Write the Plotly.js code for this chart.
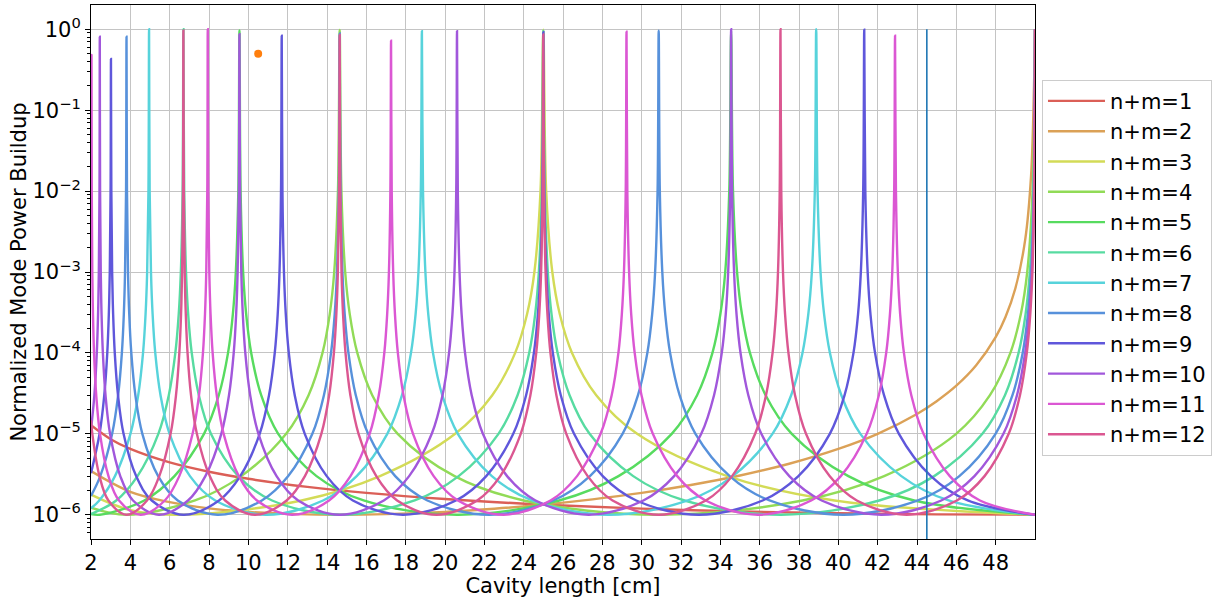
<!DOCTYPE html>
<html><head><meta charset="utf-8">
<script src="https://cdn.plot.ly/plotly-3.0.1.min.js"></script>
<style>html,body{margin:0;padding:0;background:#fff}#chart{width:1217px;height:598px}</style>
</head><body><div id="chart"></div>
<script>
const seriesNames = ['n+m=1','n+m=2','n+m=3','n+m=4','n+m=5','n+m=6','n+m=7','n+m=8','n+m=9','n+m=10','n+m=11','n+m=12'];
const seriesColors = ['#db5f57','#dba157','#d3db57','#91db57','#57db5f','#57dba1','#57d3db','#5791db','#5f57db','#a157db','#db57d3','#db5791'];

const x1 = [2,3,4,6,8,10,13,16,20,25,30,35,40,45,50];
const y1 = [1.275e-5,8.59e-6,6.51e-6,4.43e-6,3.40e-6,2.78e-6,2.21e-6,1.86e-6,1.5625e-6,1.333e-6,1.19e-6,1.099e-6,1.042e-6,1.01e-6,1.0e-6];

const x2 = [2,4,6,8,10,12.5,14.645,17,20,22.5,25,27.5,30,32.5,35,37.5,40,42,44,45,46,47,48,48.5,49,49.5,49.8,49.95,50];
const y2 = [3.46e-6,1.92e-6,1.43e-6,1.20e-6,1.085e-6,1.016e-6,1.0e-6,1.017e-6,1.085e-6,1.185e-6,1.333e-6,1.548e-6,1.86e-6,2.33e-6,3.05e-6,4.27e-6,6.51e-6,1.0e-5,1.76e-5,2.53e-5,3.93e-5,6.97e-5,1.565e-4,2.78e-4,6.25e-4,2.49e-3,0.0154,0.2,1.0];

const x3 = [2,4,6.699,12.707,16.694,20.517,22.403,23.568,24.171,24.545,24.856,25,25.144,25.457,25.838,26.459,27.690,29.769,34.356,39.803,50];
const y3 = [1.77e-6,1.14e-6,1e-6,
  1.5e-6,3e-6,1e-5,3e-5,1e-4,3e-4,1e-3,1e-2,0.99,1e-2,1e-3,3e-4,1e-4,3e-5,1e-5,3e-6,1.5e-6,
  1e-6];

const x4 = [2,3.806,7.288,9.639,11.923,13.063,13.771,14.138,14.367,14.557,14.645,14.733,14.925,15.159,15.541,16.301,17.594,20.487,24.005,30.866,38.180,42.329,45.990,47.710,48.748,49.278,49.605,49.876,50];
const y4 = [1.22e-6,1e-6,
  1.5e-6,3e-6,1e-5,3e-5,1e-4,3e-4,1e-3,1e-2,0.98,1e-2,1e-3,3e-4,1e-4,3e-5,1e-5,3e-6,1.5e-6,
  1e-6,1.5e-6,3e-6,1e-5,3e-5,1e-4,3e-4,1e-3,1e-2,1.0];

const x5 = [2,2.447,4.707,6.244,7.746,8.499,8.968,9.212,9.364,9.491,9.549,9.607,9.735,9.891,10.146,10.653,11.519,13.468,15.862,20.611,25.805,28.822,31.529,32.817,33.599,34.001,34.249,34.454,34.549,34.644,34.850,35.099,35.505,36.302,37.633,40.511,43.855,50];
const y5 = [1.02e-6,1e-6,
  1.5e-6,3e-6,1e-5,3e-5,1e-4,3e-4,1e-3,1e-2,0.97,1e-2,1e-3,3e-4,1e-4,3e-5,1e-5,3e-6,1.5e-6,
  1e-6,
  1.5e-6,3e-6,1e-5,3e-5,1e-4,3e-4,1e-3,1e-2,0.96,1e-2,1e-3,3e-4,1e-4,3e-5,1e-5,3e-6,1.5e-6,
  1e-6];

const x6 = [2,3.284,4.364,5.424,5.956,6.288,6.460,6.568,6.658,6.699,6.740,6.831,6.942,7.122,7.483,8.098,9.489,11.207,14.645,18.455,20.693,22.719,23.689,24.281,24.584,24.772,24.928,25,25.072,25.228,25.418,25.726,26.334,27.352,29.570,32.177,37.059,42.078,44.875,47.325,48.473,49.165,49.519,49.737,49.917,50];
const y6 = [1.02e-6,
  1.5e-6,3e-6,1e-5,3e-5,1e-4,3e-4,1e-3,1e-2,1.0,1e-2,1e-3,3e-4,1e-4,3e-5,1e-5,3e-6,1.5e-6,
  1e-6,
  1.5e-6,3e-6,1e-5,3e-5,1e-4,3e-4,1e-3,1e-2,0.96,1e-2,1e-3,3e-4,1e-4,3e-5,1e-5,3e-6,1.5e-6,
  1e-6,1.5e-6,3e-6,1e-5,3e-5,1e-4,3e-4,1e-3,1e-2,1.0];

const x7 = [2,2.420,3.219,4.005,4.400,4.646,4.774,4.855,4.921,4.952,4.983,5.050,5.133,5.267,5.535,5.994,7.032,8.319,10.908,13.801,15.510,17.066,17.813,18.270,18.504,18.650,18.770,18.826,18.882,19.003,19.150,19.389,19.860,20.652,22.383,24.430,28.306,32.350,34.632,36.650,37.602,38.177,38.472,38.654,38.805,38.874,38.943,39.094,39.277,39.573,40.154,41.121,43.202,45.605,50];
const y7 = [1.2e-6,
  1.5e-6,3e-6,1e-5,3e-5,1e-4,3e-4,1e-3,1e-2,1.0,1e-2,1e-3,3e-4,1e-4,3e-5,1e-5,3e-6,1.5e-6,
  1e-6,
  1.5e-6,3e-6,1e-5,3e-5,1e-4,3e-4,1e-3,1e-2,0.95,1e-2,1e-3,3e-4,1e-4,3e-5,1e-5,3e-6,1.5e-6,
  1e-6,
  1.5e-6,3e-6,1e-5,3e-5,1e-4,3e-4,1e-3,1e-2,1.0,1e-2,1e-3,3e-4,1e-4,3e-5,1e-5,3e-6,1.5e-6,
  1e-6];

const x8 = [2,2.471,3.075,3.380,3.570,3.669,3.731,3.782,3.806,3.830,3.882,3.945,4.049,4.256,4.611,5.415,6.412,8.427,10.687,12.029,13.255,13.844,14.205,14.391,14.506,14.601,14.645,14.689,14.785,14.901,15.090,15.464,16.092,17.469,19.105,22.221,25.502,27.369,29.028,29.813,30.289,30.533,30.684,30.809,30.866,30.923,31.049,31.200,31.446,31.929,32.735,34.476,36.501,40.245,44.047,46.153,47.993,48.855,49.374,49.639,49.803,49.938,50];
const y8 = [1.71e-6,3e-6,1e-5,3e-5,1e-4,3e-4,1e-3,1e-2,0.81,1e-2,1e-3,3e-4,1e-4,3e-5,1e-5,3e-6,1.5e-6,
  1e-6,
  1.5e-6,3e-6,1e-5,3e-5,1e-4,3e-4,1e-3,1e-2,0.89,1e-2,1e-3,3e-4,1e-4,3e-5,1e-5,3e-6,1.5e-6,
  1e-6,
  1.5e-6,3e-6,1e-5,3e-5,1e-4,3e-4,1e-3,1e-2,0.96,1e-2,1e-3,3e-4,1e-4,3e-5,1e-5,3e-6,1.5e-6,
  1e-6,1.5e-6,3e-6,1e-5,3e-5,1e-4,3e-4,1e-3,1e-2,1.0];

const x9 = [2,2.435,2.676,2.828,2.906,2.955,2.996,3.015,3.034,3.075,3.126,3.208,3.373,3.655,4.295,5.090,6.699,8.510,9.589,10.576,11.052,11.343,11.493,11.585,11.662,11.698,11.734,11.811,11.905,12.058,12.360,12.869,13.986,15.316,17.861,20.556,22.097,23.471,24.124,24.520,24.723,24.848,24.952,25,25.048,25.152,25.278,25.483,25.887,26.561,28.021,29.725,32.899,36.153,37.970,39.567,40.317,40.770,41.002,41.145,41.264,41.318,41.372,41.491,41.634,41.867,42.322,43.080,44.706,46.580,50];
const y9 = [3.26e-6,1e-5,3e-5,1e-4,3e-4,1e-3,1e-2,0.43,1e-2,1e-3,3e-4,1e-4,3e-5,1e-5,3e-6,1.5e-6,
  1e-6,
  1.5e-6,3e-6,1e-5,3e-5,1e-4,3e-4,1e-3,1e-2,0.83,1e-2,1e-3,3e-4,1e-4,3e-5,1e-5,3e-6,1.5e-6,
  1e-6,
  1.5e-6,3e-6,1e-5,3e-5,1e-4,3e-4,1e-3,1e-2,0.92,1e-2,1e-3,3e-4,1e-4,3e-5,1e-5,3e-6,1.5e-6,
  1e-6,
  1.5e-6,3e-6,1e-5,3e-5,1e-4,3e-4,1e-3,1e-2,0.99,1e-2,1e-3,3e-4,1e-4,3e-5,1e-5,3e-6,1.5e-6,
  1e-6];

const x10 = [2,2.172,2.295,2.359,2.398,2.432,2.447,2.462,2.496,2.537,2.604,2.738,2.968,3.489,4.137,5.450,6.932,7.816,8.626,9.017,9.257,9.380,9.456,9.520,9.549,9.578,9.642,9.719,9.845,10.094,10.514,11.436,12.535,14.645,16.889,18.176,19.327,19.875,20.207,20.378,20.483,20.571,20.611,20.651,20.739,20.845,21.018,21.357,21.925,23.157,24.600,27.300,30.087,31.651,33.030,33.680,34.073,34.275,34.399,34.502,34.549,34.596,34.699,34.824,35.026,35.423,36.084,37.507,39.152,42.178,45.234,46.921,48.395,49.084,49.499,49.711,49.842,49.950,50];
const y10 = [1.12e-5,3e-5,1e-4,3e-4,1e-3,1e-2,0.81,1e-2,1e-3,3e-4,1e-4,3e-5,1e-5,3e-6,1.5e-6,
  1e-6,
  1.5e-6,3e-6,1e-5,3e-5,1e-4,3e-4,1e-3,1e-2,0.87,1e-2,1e-3,3e-4,1e-4,3e-5,1e-5,3e-6,1.5e-6,
  1e-6,
  1.5e-6,3e-6,1e-5,3e-5,1e-4,3e-4,1e-3,1e-2,0.95,1e-2,1e-3,3e-4,1e-4,3e-5,1e-5,3e-6,1.5e-6,
  1e-6,
  1.5e-6,3e-6,1e-5,3e-5,1e-4,3e-4,1e-3,1e-2,1.0,1e-2,1e-3,3e-4,1e-4,3e-5,1e-5,3e-6,1.5e-6,
  1e-6,1.5e-6,3e-6,1e-5,3e-5,1e-4,3e-4,1e-3,1e-2,1.0];

const x11 = [2,2.012,2.025,2.038,2.066,2.100,2.155,2.266,2.457,2.889,3.427,4.518,5.752,6.490,7.166,7.492,7.693,7.796,7.860,7.913,7.937,7.961,8.015,8.080,8.185,8.393,8.744,9.516,10.439,12.212,14.105,15.193,16.168,16.632,16.914,17.059,17.149,17.223,17.257,17.291,17.366,17.456,17.603,17.891,18.374,19.424,20.656,22.968,25.365,26.716,27.911,28.475,28.817,28.991,29.099,29.189,29.230,29.271,29.361,29.469,29.645,29.991,30.567,31.808,33.250,35.913,38.621,40.125,41.442,42.060,42.434,42.624,42.742,42.839,42.884,42.929,43.026,43.144,43.335,43.710,44.332,45.666,47.201,50];
const y11 = [2.5e-3,1e-2,0.48,1e-2,1e-3,3e-4,1e-4,3e-5,1e-5,3e-6,1.5e-6,
  1e-6,
  1.5e-6,3e-6,1e-5,3e-5,1e-4,3e-4,1e-3,1e-2,1.0,1e-2,1e-3,3e-4,1e-4,3e-5,1e-5,3e-6,1.5e-6,
  1e-6,
  1.5e-6,3e-6,1e-5,3e-5,1e-4,3e-4,1e-3,1e-2,0.72,1e-2,1e-3,3e-4,1e-4,3e-5,1e-5,3e-6,1.5e-6,
  1e-6,
  1.5e-6,3e-6,1e-5,3e-5,1e-4,3e-4,1e-3,1e-2,0.93,1e-2,1e-3,3e-4,1e-4,3e-5,1e-5,3e-6,1.5e-6,
  1e-6,
  1.5e-6,3e-6,1e-5,3e-5,1e-4,3e-4,1e-3,1e-2,0.83,1e-2,1e-3,3e-4,1e-4,3e-5,1e-5,3e-6,1.5e-6,
  1e-6];

const x12 = [2,2.067,2.431,2.885,3.806,4.849,5.473,6.046,6.322,6.492,6.579,6.633,6.678,6.699,6.720,6.765,6.820,6.909,7.086,7.383,8.039,8.822,10.332,11.946,12.877,13.712,14.109,14.351,14.475,14.552,14.616,14.645,14.674,14.738,14.816,14.941,15.189,15.604,16.506,17.566,19.562,21.638,22.811,23.850,24.342,24.639,24.792,24.886,24.964,25,25.036,25.114,25.209,25.362,25.664,26.168,27.255,28.521,30.866,33.262,34.597,35.771,36.323,36.656,36.827,36.932,37.019,37.059,37.099,37.186,37.292,37.463,37.798,38.356,39.555,40.938,43.474,46.026,47.434,48.662,49.236,49.583,49.759,49.868,49.959,50];
const y12 = [1.47e-5,1e-5,3e-6,1.5e-6,
  1e-6,
  1.5e-6,3e-6,1e-5,3e-5,1e-4,3e-4,1e-3,1e-2,0.97,1e-2,1e-3,3e-4,1e-4,3e-5,1e-5,3e-6,1.5e-6,
  1e-6,
  1.5e-6,3e-6,1e-5,3e-5,1e-4,3e-4,1e-3,1e-2,0.85,1e-2,1e-3,3e-4,1e-4,3e-5,1e-5,3e-6,1.5e-6,
  1e-6,
  1.5e-6,3e-6,1e-5,3e-5,1e-4,3e-4,1e-3,1e-2,0.86,1e-2,1e-3,3e-4,1e-4,3e-5,1e-5,3e-6,1.5e-6,
  1e-6,
  1.5e-6,3e-6,1e-5,3e-5,1e-4,3e-4,1e-3,1e-2,1.0,1e-2,1e-3,3e-4,1e-4,3e-5,1e-5,3e-6,1.5e-6,
  1e-6,1.5e-6,3e-6,1e-5,3e-5,1e-4,3e-4,1e-3,1e-2,1.0];

const markerLineX = [44.5, 44.5];
const markerLineY = [1e-8, 1.0];
const pointX = [10.5];
const pointY = [0.5];

const xTickVals = [2,4,6,8,10,12,14,16,18,20,22,24,26,28,30,32,34,36,38,40,42,44,46,48];
const yTickVals = [1e-6,1e-5,1e-4,1e-3,1e-2,1e-1,1];
const yTickText = ['10<sup>\u22126</sup>','10<sup>\u22125</sup>','10<sup>\u22124</sup>','10<sup>\u22123</sup>','10<sup>\u22122</sup>','10<sup>\u22121</sup>','10<sup>0</sup>'];

const xs = [x1,x2,x3,x4,x5,x6,x7,x8,x9,x10,x11,x12];
const ys = [y1,y2,y3,y4,y5,y6,y7,y8,y9,y10,y11,y12];

const minorVals = [];
for (let e = -7; e <= 0; e++) {
  for (let m = 2; m <= 9; m++) minorVals.push(m * Math.pow(10, e));
}

const FS = 21;
const traces = xs.map((xv, i) => ({
  type: 'scatter', mode: 'lines', x: xv, y: ys[i], name: seriesNames[i],
  line: {color: seriesColors[i], width: 2.4, shape: 'spline', smoothing: 1},
  hoverinfo: 'skip'
}));
traces.push({type: 'scatter', mode: 'lines', x: markerLineX, y: markerLineY, showlegend: false,
  line: {color: '#1f77b4', width: 1.6}, hoverinfo: 'skip'});
traces.push({type: 'scatter', mode: 'markers', x: pointX, y: pointY, showlegend: false,
  marker: {color: '#ff7f0e', size: 8}, hoverinfo: 'skip'});

const layout = {
  width: 1217, height: 598,
  margin: {l: 91, r: 182, t: 5, b: 59},
  paper_bgcolor: 'white', plot_bgcolor: 'white',
  font: {family: 'DejaVu Sans', size: FS, color: 'black'},
  showlegend: true,
  legend: {x: 1.0074, xanchor: 'left', y: 0.86, yanchor: 'top',
    bordercolor: '#cccccc', borderwidth: 1, bgcolor: 'rgba(255,255,255,0.85)',
    font: {family: 'DejaVu Sans', size: FS, color: 'black'},
    traceorder: 'normal', itemwidth: 57},
  xaxis: {range: [2, 50], tickmode: 'array', tickvals: xTickVals,
    ticks: 'outside', ticklen: 5, tickcolor: 'black', tickwidth: 1,
    showgrid: true, gridcolor: '#c4c4c4', gridwidth: 1,
    showline: true, mirror: true, linecolor: 'black', linewidth: 1, zeroline: false,
    tickfont: {family: 'DejaVu Sans', size: FS, color: 'black'},
    title: {text: 'Cavity length [cm]', font: {family: 'DejaVu Sans', size: FS, color: 'black'}, standoff: 2}},
  yaxis: {type: 'log', range: [-6.3, 0.3], tickmode: 'array', tickvals: yTickVals, ticktext: yTickText,
    ticks: 'outside', ticklen: 5, tickcolor: 'black', tickwidth: 1,
    minor: {tickmode: 'array', tickvals: minorVals, ticks: 'outside', ticklen: 3, tickcolor: 'black', showgrid: false},
    showgrid: true, gridcolor: '#c4c4c4', gridwidth: 1,
    showline: true, mirror: true, linecolor: 'black', linewidth: 1, zeroline: false,
    tickfont: {family: 'DejaVu Sans', size: FS, color: 'black'},
    title: {text: 'Normalized Mode Power Buildup', font: {family: 'DejaVu Sans', size: FS, color: 'black'}, standoff: 0}}
};

Plotly.newPlot('chart', traces, layout, {displayModeBar: false, staticPlot: true});
</script>
</body></html>
